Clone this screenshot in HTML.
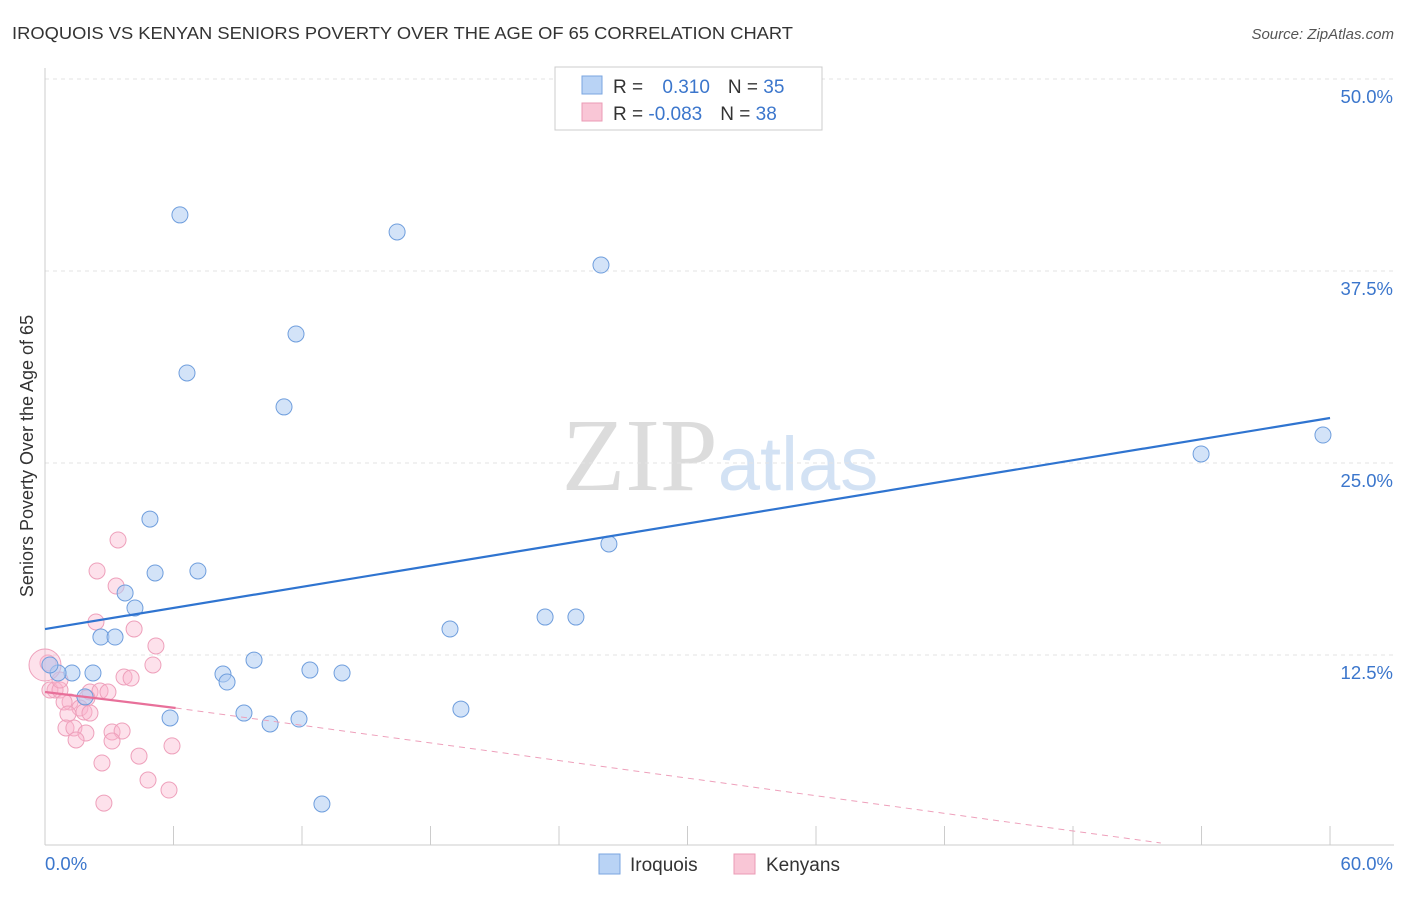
<!DOCTYPE html>
<html><head><meta charset="utf-8"><style>
body{margin:0;background:#fff;font-family:"Liberation Sans",sans-serif}
svg text{font-family:"Liberation Sans",sans-serif}
</style></head><body>
<svg id="chart" width="1406" height="892" xmlns="http://www.w3.org/2000/svg">
<text x="12" y="39" font-size="17.5" fill="#333" textLength="781" lengthAdjust="spacingAndGlyphs">IROQUOIS VS KENYAN SENIORS POVERTY OVER THE AGE OF 65 CORRELATION CHART</text>
<text x="1394" y="39" font-size="15" fill="#555" text-anchor="end" font-style="italic">Source: ZipAtlas.com</text>
<text x="720" y="490" font-size="104" fill="#e2e2e2" text-anchor="middle" font-family="Liberation Serif"><tspan fill="#dcdcdc" font-family="Liberation Serif">ZIP</tspan><tspan fill="#d3e2f4" font-family="Liberation Sans" font-size="76">atlas</tspan></text>
<g id="grid"></g>
<g id="axes"></g>
<g id="marks"></g>
<text transform="translate(33,456) rotate(-90)" font-size="18" fill="#333" text-anchor="middle">Seniors Poverty Over the Age of 65</text>
<g>
<rect x="555" y="67" width="267" height="63" fill="#fff" stroke="#ccc"/>
<rect x="582" y="76" width="20" height="18" fill="#b9d3f5" stroke="#7aa6e0"/>
<rect x="582" y="103" width="20" height="18" fill="#f9c6d6" stroke="#eb9bb5"/>
<text x="613" y="93" font-size="19" fill="#333">R = <tspan fill="#3b76cc" dx="14">0.310</tspan><tspan dx="18" fill="#333">N = </tspan><tspan fill="#3b76cc">35</tspan></text>
<text x="613" y="120" font-size="19" fill="#333">R = <tspan fill="#3b76cc">-0.083</tspan><tspan dx="18" fill="#333">N = </tspan><tspan fill="#3b76cc">38</tspan></text>
</g>
<g>
<rect x="599" y="854" width="21" height="20" fill="#b9d3f5" stroke="#7aa6e0"/>
<text x="630" y="871" font-size="19" fill="#333">Iroquois</text>
<rect x="734" y="854" width="21" height="20" fill="#f9c6d6" stroke="#eb9bb5"/>
<text x="766" y="871" font-size="19" fill="#333">Kenyans</text>
</g>
</svg>
<script>
const blueX=[6.30,16.44,25.96,11.72,6.63,11.16,59.67,53.98,4.90,26.33,5.14,7.14,3.74,4.20,23.35,24.79,18.91,2.61,3.27,9.76,12.37,13.87,8.31,8.50,2.24,1.26,0.61,0.23,9.29,5.84,11.86,10.51,19.42,12.93,1.87];
const blueY=[41.15,40.04,37.89,33.40,30.86,28.65,26.82,25.59,21.35,19.73,17.84,17.97,16.54,15.56,14.97,14.97,14.19,13.67,13.67,12.17,11.52,11.33,11.26,10.74,11.33,11.33,11.33,11.85,8.72,8.40,8.33,8.01,8.98,2.80,9.77];
const pinkX=[3.41,2.43,3.32,2.38,4.16,5.18,5.04,3.69,4.02,0.14,0.47,0.23,0.70,2.10,2.57,2.94,1.96,1.17,0.89,1.63,1.82,2.10,1.07,0.98,1.35,1.91,3.13,3.60,3.13,1.45,5.93,4.39,2.66,4.81,5.79,2.75,0.70,0];
const pinkY=[19.99,17.97,16.99,14.65,14.19,13.09,11.85,11.07,11.00,11.98,10.22,10.22,10.22,10.09,10.16,10.09,9.70,9.44,9.44,9.05,8.79,8.72,8.66,7.75,7.75,7.42,7.49,7.55,6.90,6.97,6.58,5.92,5.47,4.36,3.71,2.86,10.87,11.85];
const yTicks=[12.5,25,37.5,50];
const yTickLabels=["12.5%","25.0%","37.5%","50.0%"];
const xTicks=[0,6,12,18,24,30,36,42,48,54,60];
const blueTrend=[[0,14.19],[60,27.93]];
const pinkSolid=[[0,10.09],[6.1,9.05]];
const pinkDash=[[6.1,9.05],[52.1,0.26]];
const X=v=>45+v*21.417, Y=v=>847-v*15.36;
const NS="http://www.w3.org/2000/svg";
function mk(tag,parent,attrs){const e=document.createElementNS(NS,tag);for(const k in attrs)e.setAttribute(k,attrs[k]);document.getElementById(parent).appendChild(e);return e;}
yTicks.forEach((t,i)=>{
 const l=mk('line','grid',{x1:45,x2:1394,y1:Y(t),y2:Y(t),stroke:'#e3e3e3','stroke-dasharray':'4,4'});
 
 
 const tx=mk('text','axes',{x:1393,y:Y(t)+24,'font-size':18.5,fill:'#3b76cc','text-anchor':'end'});
 tx.textContent=yTickLabels[i];
 
 
});
const ax=mk('line','axes',{x1:45,x2:1394,y1:845,y2:845,stroke:'#ccc'});


const ay=mk('line','axes',{x1:45,x2:45,y1:68,y2:845,stroke:'#ccc'});


xTicks.forEach(t=>{const l=mk('line','axes',{x1:X(t),x2:X(t),y1:826,y2:845,stroke:'#ccc'});
 
 });
[["0.0%",X(0)+0,'start'],["60.0%",1393,'end']].forEach(a=>{const t=mk('text','axes',{x:a[1],y:870,'font-size':18.5,fill:'#3b76cc','text-anchor':a[2]});t.textContent=a[0];
 
 });
pinkX.forEach((x,i)=>{const c=mk('circle','marks',{cx:X(x),cy:Y(pinkY[i]),r:i==pinkX.length-1?16:8,fill:'rgba(249,180,204,0.4)',stroke:'#eea0bb','stroke-width':1});
 
 });
blueX.forEach((x,i)=>{const c=mk('circle','marks',{cx:X(x),cy:Y(blueY[i]),r:8,fill:'rgba(175,204,243,0.55)',stroke:'#6f9edd','stroke-width':1});
 
 });
const bl=mk('line','marks',{x1:X(blueTrend[0][0]),y1:Y(blueTrend[0][1]),x2:X(blueTrend[1][0]),y2:Y(blueTrend[1][1]),stroke:'#2f74d0','stroke-width':2.2});


const ps=mk('line','marks',{x1:X(pinkSolid[0][0]),y1:Y(pinkSolid[0][1]),x2:X(pinkSolid[1][0]),y2:Y(pinkSolid[1][1]),stroke:'#e8709a','stroke-width':2.2});


const pd=mk('line','marks',{x1:X(pinkDash[0][0]),y1:Y(pinkDash[0][1]),x2:X(pinkDash[1][0]),y2:Y(pinkDash[1][1]),stroke:'#eea0bb','stroke-width':1,'stroke-dasharray':'6,5'});


</script>
</body></html>
